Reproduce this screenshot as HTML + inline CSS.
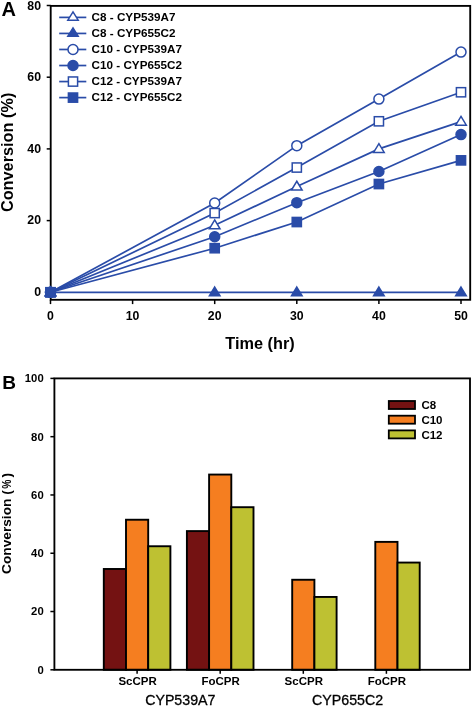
<!DOCTYPE html>
<html><head><meta charset="utf-8"><style>
html,body{margin:0;padding:0;background:#fff;}
svg{display:block;filter:blur(0.3px);}
text{font-family:"Liberation Sans",sans-serif;fill:#000;}
.tk{font-size:12.3px;font-weight:bold;}
.tkb{font-size:11.3px;font-weight:bold;}
.lg{font-size:11.7px;font-weight:bold;}
.lgb{font-size:11.5px;font-weight:bold;}
.ti{font-size:16.3px;font-weight:bold;}
.ti2{font-size:14.2px;stroke:#000;stroke-width:0.3px;}
.ti3{font-size:13.7px;font-weight:bold;}
.pl{font-size:20px;font-weight:bold;}
.pl2{font-size:19px;font-weight:bold;}
</style></head><body>
<svg width="472" height="707" viewBox="0 0 472 707">
<rect width="472" height="707" fill="#fff"/>
<rect x="50.7" y="5.9" width="419.5" height="293.90000000000003" fill="none" stroke="#000" stroke-width="1.85"/>
<line x1="46.7" y1="292.30" x2="50.7" y2="292.30" stroke="#000" stroke-width="1.5"/>
<text x="41" y="296.10" text-anchor="end" class="tk">0</text>
<line x1="46.7" y1="220.60" x2="50.7" y2="220.60" stroke="#000" stroke-width="1.5"/>
<text x="41" y="224.40" text-anchor="end" class="tk">20</text>
<line x1="46.7" y1="148.90" x2="50.7" y2="148.90" stroke="#000" stroke-width="1.5"/>
<text x="41" y="152.70" text-anchor="end" class="tk">40</text>
<line x1="46.7" y1="77.20" x2="50.7" y2="77.20" stroke="#000" stroke-width="1.5"/>
<text x="41" y="81.00" text-anchor="end" class="tk">60</text>
<line x1="46.7" y1="5.50" x2="50.7" y2="5.50" stroke="#000" stroke-width="1.5"/>
<text x="41" y="10.10" text-anchor="end" class="tk">80</text>
<line x1="50.50" y1="299.8" x2="50.50" y2="304.1" stroke="#000" stroke-width="1.5"/>
<text x="50.50" y="320.2" text-anchor="middle" class="tk">0</text>
<line x1="132.60" y1="299.8" x2="132.60" y2="304.1" stroke="#000" stroke-width="1.5"/>
<text x="132.60" y="320.2" text-anchor="middle" class="tk">10</text>
<line x1="214.70" y1="299.8" x2="214.70" y2="304.1" stroke="#000" stroke-width="1.5"/>
<text x="214.70" y="320.2" text-anchor="middle" class="tk">20</text>
<line x1="296.80" y1="299.8" x2="296.80" y2="304.1" stroke="#000" stroke-width="1.5"/>
<text x="296.80" y="320.2" text-anchor="middle" class="tk">30</text>
<line x1="378.90" y1="299.8" x2="378.90" y2="304.1" stroke="#000" stroke-width="1.5"/>
<text x="378.90" y="320.2" text-anchor="middle" class="tk">40</text>
<line x1="461.00" y1="299.8" x2="461.00" y2="304.1" stroke="#000" stroke-width="1.5"/>
<text x="461.00" y="320.2" text-anchor="middle" class="tk">50</text>
<polyline points="50.50,292.30 214.70,225.26 296.80,186.54 378.90,148.90 461.00,121.65" fill="none" stroke="#2a4ca8" stroke-width="1.7"/>
<polyline points="50.50,292.30 214.70,292.30 296.80,292.30 378.90,292.30 461.00,292.30" fill="none" stroke="#2a4ca8" stroke-width="1.7"/>
<polyline points="50.50,292.30 214.70,203.03 296.80,145.67 378.90,99.07 461.00,52.11" fill="none" stroke="#2a4ca8" stroke-width="1.7"/>
<polyline points="50.50,292.30 214.70,236.73 296.80,202.68 378.90,171.49 461.00,134.56" fill="none" stroke="#2a4ca8" stroke-width="1.7"/>
<polyline points="50.50,292.30 214.70,213.07 296.80,167.54 378.90,121.30 461.00,92.26" fill="none" stroke="#2a4ca8" stroke-width="1.7"/>
<polyline points="50.50,292.30 214.70,248.20 296.80,222.03 378.90,184.03 461.00,160.37" fill="none" stroke="#2a4ca8" stroke-width="1.7"/>
<polygon points="50.50,287.02 55.80,295.82 45.20,295.82" fill="#fff" stroke="#2a4ca8" stroke-width="1.5" stroke-linejoin="miter"/>
<polygon points="214.70,219.98 220.00,228.78 209.40,228.78" fill="#fff" stroke="#2a4ca8" stroke-width="1.5" stroke-linejoin="miter"/>
<polygon points="296.80,181.26 302.10,190.06 291.50,190.06" fill="#fff" stroke="#2a4ca8" stroke-width="1.5" stroke-linejoin="miter"/>
<polygon points="378.90,143.62 384.20,152.42 373.60,152.42" fill="#fff" stroke="#2a4ca8" stroke-width="1.5" stroke-linejoin="miter"/>
<polygon points="461.00,116.37 466.30,125.17 455.70,125.17" fill="#fff" stroke="#2a4ca8" stroke-width="1.5" stroke-linejoin="miter"/>
<polygon points="50.50,287.02 55.80,295.82 45.20,295.82" fill="#2a4ca8" stroke="#2a4ca8" stroke-width="1.5" stroke-linejoin="miter"/>
<polygon points="214.70,287.02 220.00,295.82 209.40,295.82" fill="#2a4ca8" stroke="#2a4ca8" stroke-width="1.5" stroke-linejoin="miter"/>
<polygon points="296.80,287.02 302.10,295.82 291.50,295.82" fill="#2a4ca8" stroke="#2a4ca8" stroke-width="1.5" stroke-linejoin="miter"/>
<polygon points="378.90,287.02 384.20,295.82 373.60,295.82" fill="#2a4ca8" stroke="#2a4ca8" stroke-width="1.5" stroke-linejoin="miter"/>
<polygon points="461.00,287.02 466.30,295.82 455.70,295.82" fill="#2a4ca8" stroke="#2a4ca8" stroke-width="1.5" stroke-linejoin="miter"/>
<circle cx="50.50" cy="292.30" r="5.0" fill="#fff" stroke="#2a4ca8" stroke-width="1.5"/>
<circle cx="214.70" cy="203.03" r="5.0" fill="#fff" stroke="#2a4ca8" stroke-width="1.5"/>
<circle cx="296.80" cy="145.67" r="5.0" fill="#fff" stroke="#2a4ca8" stroke-width="1.5"/>
<circle cx="378.90" cy="99.07" r="5.0" fill="#fff" stroke="#2a4ca8" stroke-width="1.5"/>
<circle cx="461.00" cy="52.11" r="5.0" fill="#fff" stroke="#2a4ca8" stroke-width="1.5"/>
<circle cx="50.50" cy="292.30" r="5.0" fill="#2a4ca8" stroke="#2a4ca8" stroke-width="1.5"/>
<circle cx="214.70" cy="236.73" r="5.0" fill="#2a4ca8" stroke="#2a4ca8" stroke-width="1.5"/>
<circle cx="296.80" cy="202.68" r="5.0" fill="#2a4ca8" stroke="#2a4ca8" stroke-width="1.5"/>
<circle cx="378.90" cy="171.49" r="5.0" fill="#2a4ca8" stroke="#2a4ca8" stroke-width="1.5"/>
<circle cx="461.00" cy="134.56" r="5.0" fill="#2a4ca8" stroke="#2a4ca8" stroke-width="1.5"/>
<rect x="45.90" y="287.70" width="9.2" height="9.2" fill="#fff" stroke="#2a4ca8" stroke-width="1.5"/>
<rect x="210.10" y="208.47" width="9.2" height="9.2" fill="#fff" stroke="#2a4ca8" stroke-width="1.5"/>
<rect x="292.20" y="162.94" width="9.2" height="9.2" fill="#fff" stroke="#2a4ca8" stroke-width="1.5"/>
<rect x="374.30" y="116.70" width="9.2" height="9.2" fill="#fff" stroke="#2a4ca8" stroke-width="1.5"/>
<rect x="456.40" y="87.66" width="9.2" height="9.2" fill="#fff" stroke="#2a4ca8" stroke-width="1.5"/>
<rect x="45.90" y="287.70" width="9.2" height="9.2" fill="#2a4ca8" stroke="#2a4ca8" stroke-width="1.5"/>
<rect x="210.10" y="243.60" width="9.2" height="9.2" fill="#2a4ca8" stroke="#2a4ca8" stroke-width="1.5"/>
<rect x="292.20" y="217.43" width="9.2" height="9.2" fill="#2a4ca8" stroke="#2a4ca8" stroke-width="1.5"/>
<rect x="374.30" y="179.43" width="9.2" height="9.2" fill="#2a4ca8" stroke="#2a4ca8" stroke-width="1.5"/>
<rect x="456.40" y="155.77" width="9.2" height="9.2" fill="#2a4ca8" stroke="#2a4ca8" stroke-width="1.5"/>
<line x1="59.2" y1="17.40" x2="86.3" y2="17.40" stroke="#2a4ca8" stroke-width="1.7"/>
<polygon points="73.00,11.80 78.20,20.20 67.80,20.20" fill="#fff" stroke="#2a4ca8" stroke-width="1.5" stroke-linejoin="miter"/>
<text x="91.6" y="21.10" class="lg">C8 - CYP539A7</text>
<line x1="59.2" y1="33.44" x2="86.3" y2="33.44" stroke="#2a4ca8" stroke-width="1.7"/>
<polygon points="73.00,27.84 78.20,36.24 67.80,36.24" fill="#2a4ca8" stroke="#2a4ca8" stroke-width="1.5" stroke-linejoin="miter"/>
<text x="91.6" y="37.14" class="lg">C8 - CYP655C2</text>
<line x1="59.2" y1="49.48" x2="86.3" y2="49.48" stroke="#2a4ca8" stroke-width="1.7"/>
<circle cx="73.00" cy="49.48" r="5.0" fill="#fff" stroke="#2a4ca8" stroke-width="1.5"/>
<text x="91.6" y="53.18" class="lg">C10 - CYP539A7</text>
<line x1="59.2" y1="65.52" x2="86.3" y2="65.52" stroke="#2a4ca8" stroke-width="1.7"/>
<circle cx="73.00" cy="65.52" r="5.0" fill="#2a4ca8" stroke="#2a4ca8" stroke-width="1.5"/>
<text x="91.6" y="69.22" class="lg">C10 - CYP655C2</text>
<line x1="59.2" y1="81.56" x2="86.3" y2="81.56" stroke="#2a4ca8" stroke-width="1.7"/>
<rect x="68.40" y="76.96" width="9.2" height="9.2" fill="#fff" stroke="#2a4ca8" stroke-width="1.5"/>
<text x="91.6" y="85.26" class="lg">C12 - CYP539A7</text>
<line x1="59.2" y1="97.60" x2="86.3" y2="97.60" stroke="#2a4ca8" stroke-width="1.7"/>
<rect x="68.40" y="93.00" width="9.2" height="9.2" fill="#2a4ca8" stroke="#2a4ca8" stroke-width="1.5"/>
<text x="91.6" y="101.30" class="lg">C12 - CYP655C2</text>
<text x="260" y="349" text-anchor="middle" class="ti">Time (hr)</text>
<text transform="translate(13.4,152.4) rotate(-90)" text-anchor="middle" class="ti">Conversion (%)</text>
<text x="1.5" y="16" class="pl">A</text>
<rect x="103.80" y="568.98" width="22.2" height="100.82" fill="#741212" stroke="#000" stroke-width="1.9"/>
<rect x="126.00" y="519.73" width="22.2" height="150.07" fill="#f57e20" stroke="#000" stroke-width="1.9"/>
<rect x="148.20" y="546.25" width="22.2" height="123.55" fill="#bec132" stroke="#000" stroke-width="1.9"/>
<rect x="186.90" y="531.09" width="22.2" height="138.71" fill="#741212" stroke="#000" stroke-width="1.9"/>
<rect x="209.10" y="474.56" width="22.2" height="195.24" fill="#f57e20" stroke="#000" stroke-width="1.9"/>
<rect x="231.30" y="507.20" width="22.2" height="162.60" fill="#bec132" stroke="#000" stroke-width="1.9"/>
<rect x="292.20" y="579.76" width="22.2" height="90.04" fill="#f57e20" stroke="#000" stroke-width="1.9"/>
<rect x="314.40" y="596.95" width="22.2" height="72.85" fill="#bec132" stroke="#000" stroke-width="1.9"/>
<rect x="375.30" y="541.88" width="22.2" height="127.92" fill="#f57e20" stroke="#000" stroke-width="1.9"/>
<rect x="397.50" y="562.56" width="22.2" height="107.24" fill="#bec132" stroke="#000" stroke-width="1.9"/>
<rect x="54.4" y="378.4" width="415.6" height="291.4" fill="none" stroke="#000" stroke-width="1.85"/>
<line x1="50.4" y1="669.80" x2="54.4" y2="669.80" stroke="#000" stroke-width="1.5"/>
<text x="43.7" y="673.75" text-anchor="end" class="tkb">0</text>
<line x1="50.4" y1="611.52" x2="54.4" y2="611.52" stroke="#000" stroke-width="1.5"/>
<text x="43.7" y="615.47" text-anchor="end" class="tkb">20</text>
<line x1="50.4" y1="553.24" x2="54.4" y2="553.24" stroke="#000" stroke-width="1.5"/>
<text x="43.7" y="557.19" text-anchor="end" class="tkb">40</text>
<line x1="50.4" y1="494.96" x2="54.4" y2="494.96" stroke="#000" stroke-width="1.5"/>
<text x="43.7" y="498.91" text-anchor="end" class="tkb">60</text>
<line x1="50.4" y1="436.68" x2="54.4" y2="436.68" stroke="#000" stroke-width="1.5"/>
<text x="43.7" y="440.63" text-anchor="end" class="tkb">80</text>
<line x1="50.4" y1="378.40" x2="54.4" y2="378.40" stroke="#000" stroke-width="1.5"/>
<text x="43.7" y="382.35" text-anchor="end" class="tkb">100</text>
<line x1="137.10" y1="669.8" x2="137.10" y2="673.8" stroke="#000" stroke-width="1.5"/>
<text x="137.60" y="685" text-anchor="middle" class="tkb" style="font-size:11.5px">ScCPR</text>
<line x1="220.20" y1="669.8" x2="220.20" y2="673.8" stroke="#000" stroke-width="1.5"/>
<text x="220.70" y="685" text-anchor="middle" class="tkb" style="font-size:11.5px">FoCPR</text>
<line x1="303.30" y1="669.8" x2="303.30" y2="673.8" stroke="#000" stroke-width="1.5"/>
<text x="303.80" y="685" text-anchor="middle" class="tkb" style="font-size:11.5px">ScCPR</text>
<line x1="386.40" y1="669.8" x2="386.40" y2="673.8" stroke="#000" stroke-width="1.5"/>
<text x="386.90" y="685" text-anchor="middle" class="tkb" style="font-size:11.5px">FoCPR</text>
<text x="180.3" y="705" text-anchor="middle" class="ti2">CYP539A7</text>
<text x="347.6" y="705" text-anchor="middle" class="ti2">CYP655C2</text>
<text transform="translate(10.6,573.9) rotate(-90)" class="ti3">Conversion (</text>
<text transform="translate(10.6,484.3) rotate(-90) scale(0.75,1)" text-anchor="middle" class="ti3">%</text>
<text transform="translate(10.6,475.25) rotate(-90)" text-anchor="middle" class="ti3">)</text>
<text x="2.2" y="389" class="pl2">B</text>
<rect x="388.8" y="401.00" width="26.2" height="8" fill="#741212" stroke="#000" stroke-width="1.8"/>
<text x="421.4" y="409.20" class="lgb">C8</text>
<rect x="388.8" y="415.70" width="26.2" height="8" fill="#f57e20" stroke="#000" stroke-width="1.8"/>
<text x="421.4" y="423.90" class="lgb">C10</text>
<rect x="388.8" y="430.40" width="26.2" height="8" fill="#bec132" stroke="#000" stroke-width="1.8"/>
<text x="421.4" y="438.60" class="lgb">C12</text>
</svg>
</body></html>
